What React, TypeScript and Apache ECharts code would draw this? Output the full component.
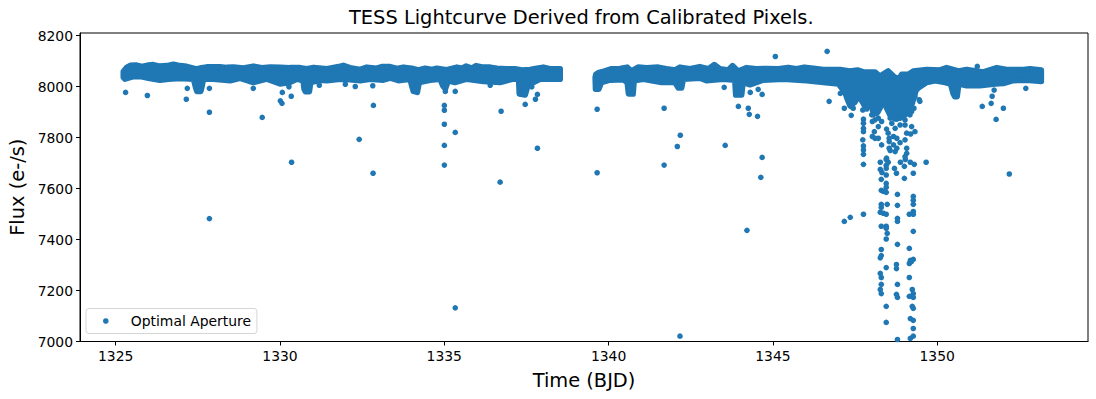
import React, { useEffect, useRef } from "react";
import * as echarts from "echarts";

const xTicks = [1325, 1330, 1335, 1340, 1345, 1350];
const yTicks = [7000, 7200, 7400, 7600, 7800, 8000, 8200];
const seriesName = "Optimal Aperture";

const band1Top = [[1325.23,8059],[1325.33,8075],[1325.44,8083],[1325.64,8084],[1325.79,8079],[1325.94,8083],[1326.14,8086],[1326.34,8080],[1326.55,8082],[1326.75,8087],[1326.95,8082],[1327.15,8079],[1327.45,8069],[1327.6,8074],[1327.76,8077],[1328.16,8077],[1328.36,8075],[1328.57,8076],[1328.87,8073],[1329.17,8080],[1329.43,8074],[1329.68,8076],[1329.98,8075],[1330.28,8074],[1330.59,8074],[1330.79,8070],[1331,8075],[1331.4,8070],[1331.8,8080],[1331.9,8083],[1332.1,8074],[1332.41,8067],[1332.61,8076],[1332.91,8072],[1333.06,8078],[1333.32,8078],[1333.52,8071],[1333.72,8076],[1333.97,8072],[1334.17,8065],[1334.38,8072],[1334.58,8067],[1334.73,8072],[1335.03,8066],[1335.34,8076],[1335.49,8072],[1335.62,8080],[1335.79,8072],[1335.92,8082],[1336.14,8076],[1336.35,8076],[1336.55,8072],[1336.85,8070],[1337.1,8070],[1337.31,8065],[1337.56,8067],[1337.76,8072],[1337.96,8076],[1338.16,8070],[1338.47,8070]];
const band1Bottom = [[1325.23,8036],[1325.28,8029],[1325.54,8039],[1325.74,8039],[1325.99,8033],[1326.34,8025],[1326.6,8029],[1326.95,8032],[1327.36,8029],[1327.42,7997],[1327.46,7981],[1327.58,7981],[1327.62,8003],[1327.66,8029],[1327.96,8029],[1328.47,8023],[1328.77,8032],[1329.17,8016],[1329.58,8029],[1329.98,8010],[1330.28,8016],[1330.49,8029],[1330.68,8023],[1330.71,7990],[1330.75,7980],[1330.87,7980],[1330.91,8016],[1331.2,8025],[1331.4,8023],[1331.8,8029],[1332.1,8027],[1332.41,8023],[1332.71,8029],[1333.11,8025],[1333.32,8033],[1333.57,8023],[1333.92,8029],[1333.97,8003],[1334.02,7981],[1334.14,7977],[1334.2,8016],[1334.53,8025],[1334.83,8029],[1334.91,8003],[1334.99,7990],[1335.08,8023],[1335.28,8016],[1335.64,8029],[1336.14,8020],[1336.65,8016],[1337.05,8029],[1337.21,8029],[1337.23,7971],[1337.41,7967],[1337.49,8003],[1337.66,8016],[1337.86,8029],[1338.47,8029]];
const band2Top = [[1339.55,8048],[1339.62,8054],[1339.82,8061],[1340.03,8070],[1340.28,8071],[1340.5,8076],[1340.63,8061],[1340.83,8076],[1341.09,8074],[1341.44,8076],[1341.69,8070],[1341.95,8065],[1342.1,8076],[1342.4,8070],[1342.7,8078],[1342.96,8070],[1343.14,8086],[1343.31,8070],[1343.56,8065],[1343.69,8082],[1343.86,8061],[1344.12,8074],[1344.42,8070],[1344.72,8071],[1345.08,8070],[1345.38,8075],[1345.63,8070],[1345.87,8076],[1346.14,8072],[1346.44,8067],[1346.95,8067],[1347.25,8061],[1347.48,8065],[1347.66,8057],[1348.01,8057],[1348.16,8041],[1348.41,8061],[1348.57,8041],[1348.72,8028],[1348.82,8048],[1349.02,8048],[1349.17,8061],[1349.58,8067],[1349.98,8065],[1350.18,8074],[1350.54,8061],[1350.79,8067],[1351.29,8057],[1351.7,8074],[1352,8067],[1352.5,8067],[1352.71,8070],[1353.05,8065]];
const band2Bottom = [[1339.53,8036],[1339.54,7990],[1339.64,7990],[1339.72,8016],[1339.98,8025],[1340.38,8027],[1340.5,8016],[1340.54,7971],[1340.68,7971],[1340.71,8023],[1340.99,8029],[1341.54,8016],[1341.95,8016],[1342.05,7994],[1342.15,7994],[1342.2,8029],[1342.7,8033],[1342.9,8023],[1343.41,8029],[1343.76,8025],[1343.79,7967],[1343.97,7967],[1344.01,8016],[1344.22,8007],[1344.62,8025],[1345.23,8029],[1345.94,8023],[1346.44,8016],[1346.9,8010],[1347.1,7977],[1347.15,7957],[1347.25,7925],[1347.4,7938],[1347.51,7964],[1347.76,7912],[1347.84,7964],[1347.95,7900],[1348.1,7900],[1348.2,7930],[1348.3,7931],[1348.47,7886],[1348.62,7873],[1348.82,7879],[1349.02,7899],[1349.15,7938],[1349.25,7984],[1349.35,7997],[1349.58,8016],[1349.83,8023],[1350.13,8016],[1350.3,8010],[1350.38,7971],[1350.43,7960],[1350.5,7960],[1350.55,8010],[1350.79,8003],[1351.19,8003],[1351.65,8010],[1351.9,8012],[1352.2,8023],[1352.6,8025],[1353.05,8020]];

const outliers = [[1325.3,7977],[1325.96,7965],[1327.17,7993],[1327.14,7950],[1327.84,7993],[1327.84,7899],[1327.84,7482],[1329.17,7993],[1329.44,7879],[1330.05,7977],[1329.99,7944],[1330.04,7934],[1330.32,7962],[1330.25,7999],[1330.33,7703],[1331.17,8005],[1331.96,8009],[1332.26,8000],[1332.79,8003],[1332.81,7926],[1332.38,7793],[1332.8,7660],[1334.99,7981],[1335.29,7981],[1334.96,7926],[1334.96,7907],[1334.96,7852],[1335.29,7820],[1334.96,7769],[1334.96,7692],[1335.29,7132],[1336.35,8005],[1336.68,7903],[1336.65,7625],[1337.78,7758],[1337.78,7969],[1337.72,7950],[1337.41,7930],[1337.61,7999],[1339.59,7911],[1339.59,7662],[1341.62,7915],[1341.62,7692],[1342.11,7809],[1342.02,7765],[1342.1,7021],[1343.47,7769],[1344.59,7722],[1343.44,7997],[1344.23,7977],[1344.47,7989],[1344.59,7969],[1343.87,7922],[1344.17,7915],[1344.2,7891],[1344.45,7883],[1344.55,7644],[1344.13,7436],[1344.99,8118],[1346.56,8138],[1346.62,7942],[1346.96,7973],[1347.08,7915],[1351.11,8079],[1352.58,7993],[1351.62,7986],[1351.56,7962],[1351.53,7934],[1351.26,7922],[1351.9,7915],[1351.68,7871],[1352.08,7657],[1349.35,7948],[1349.37,7942],[1349.56,7703]];

const transitDots = [[1347.66,7734],[1347.66,7695],[1348.17,7703],[1348.35,7714],[1348.41,7703],[1348.35,7691],[1348.35,7679],[1348.17,7675],[1348.22,7663],[1348.35,7653],[1348.6,7679],[1348.66,7660],[1348.78,7703],[1348.9,7687],[1348.93,7714],[1349.08,7703],[1349.2,7695],[1349.17,7660],[1348.9,7640],[1348.2,7636],[1348.35,7620],[1348.35,7605],[1348.2,7593],[1348.26,7589],[1348.35,7585],[1348.69,7577],[1349.17,7569],[1349.17,7554],[1349.17,7538],[1348.69,7534],[1348.2,7538],[1348.38,7538],[1348.2,7526],[1348.17,7507],[1348.35,7499],[1348.26,7503],[1347.66,7499],[1347.26,7487],[1347.08,7471],[1349.05,7499],[1349.17,7510],[1349.17,7499],[1348.69,7483],[1348.69,7471],[1348.2,7452],[1348.35,7452],[1348.35,7444],[1349.17,7432],[1348.38,7424],[1348.35,7402],[1348.69,7381],[1349.05,7365],[1348.2,7361],[1348.2,7337],[1348.17,7328],[1349.17,7322],[1349.08,7318],[1349.05,7306],[1349.11,7313],[1348.66,7302],[1348.66,7286],[1348.35,7290],[1348.17,7267],[1348.2,7251],[1349.05,7251],[1348.2,7224],[1348.17,7204],[1348.2,7188],[1348.69,7224],[1349.14,7204],[1349.17,7188],[1349.05,7177],[1349.14,7177],[1349.17,7173],[1348.66,7185],[1348.69,7173],[1348.35,7138],[1348.35,7075],[1349.14,7138],[1349.17,7130],[1349.08,7090],[1349.17,7083],[1349.17,7051],[1349.08,7012],[1349.17,7021],[1348.69,7008],[1347.29,7887],[1347.29,7921],[1347.35,7941],[1347.43,7948],[1347.66,7872],[1347.66,7856],[1347.66,7836],[1347.66,7823],[1347.64,7791],[1347.66,7767],[1347.66,7751],[1347.64,7908],[1347.68,7928],[1347.93,7863],[1348.01,7869],[1347.91,7889],[1347.96,7908],[1348.01,7928],[1347.91,7948],[1348.11,7876],[1348.21,7863],[1348.11,7843],[1347.99,7823],[1347.93,7804],[1348.01,7797],[1348.11,7797],[1348.21,7771],[1348.36,7833],[1348.41,7817],[1348.44,7797],[1348.44,7784],[1348.57,7804],[1348.67,7797],[1348.44,7758],[1348.57,7771],[1348.67,7758],[1348.62,7745],[1348.47,7749],[1348.77,7780],[1348.92,7791],[1348.97,7758],[1348.97,7738],[1348.92,7725],[1348.36,7719],[1348.52,7856],[1348.62,7836],[1348.77,7849],[1348.92,7849],[1349.12,7843],[1349.22,7823],[1349.09,7814],[1348.97,7817],[1348.47,7876],[1349.07,7889],[1348.92,7869],[1349.19,7915],[1349.12,7902],[1347.25,7941],[1347.35,7915],[1347.56,7954],[1347.81,7928],[1347.96,7889],[1348.06,7895],[1348.16,7915],[1348.31,7928],[1348.47,7895],[1348.57,7880],[1348.67,7872],[1348.77,7876],[1348.92,7889],[1349.02,7895],[1349.12,7915],[1349.22,7961]];

// The readings above were taken at 33 px/day; the axis ticks give 32.86 px/day.
const TIME_CAL = 33 / 32.86;
const cal = (p: number[]) => [1325 + (p[0] - 1325) * TIME_CAL, p[1]];

const bandPolygons = [
  [...band1Top, ...[...band1Bottom].reverse()].map(cal),
  [...band2Top, ...[...band2Bottom].reverse()].map(cal),
];
const FONT = "DejaVu Sans";
const BLUE = "#1f77b4";
const DOT = 5.6;

export default function App() {
  const ref = useRef<HTMLDivElement>(null);
  useEffect(() => {
    document.body.style.margin = "0";
    const chart = echarts.init(ref.current!, null, { renderer: "svg" });
    chart.setOption({
      animation: false,
      textStyle: { fontFamily: FONT },
      title: {
        text: "TESS Lightcurve Derived from Calibrated Pixels.",
        left: 344,
        top: 3,
        textStyle: { fontFamily: FONT, fontSize: 19.4, fontWeight: "normal", color: "#000" },
      },
      grid: { left: 80, right: 8, top: 33, bottom: 57.5, show: true, borderColor: "#000", borderWidth: 1, backgroundColor: "#fff", outerBoundsMode: "none" },
      legend: {
        left: 86,
        top: 308.5,
        orient: "horizontal",
        data: [{ name: seriesName, icon: "circle" }],
        itemWidth: 6,
        itemHeight: DOT,
        padding: [5.5, 6, 5.5, 17],
        borderColor: "#d5d5d5",
        borderWidth: 1,
        borderRadius: 3,
        backgroundColor: "rgba(255,255,255,0.8)",
        textStyle: { fontFamily: FONT, fontSize: 13.9, color: "#000", padding: [0, 0, 0, 17] },
      },
      xAxis: {
        type: "value",
        min: 1323.914,
        max: 1354.59,
        splitLine: { show: false },
        axisLine: { show: true, onZero: false, lineStyle: { color: "#000" } },
        axisTick: { show: true, length: 4, lineStyle: { color: "#000" }, customValues: xTicks },
        axisLabel: { color: "#000", fontFamily: FONT, fontSize: 13.9, margin: 7, customValues: xTicks, formatter: (v: number) => String(v) },
        name: "Time (BJD)",
        nameLocation: "middle",
        nameGap: 29,
        nameTextStyle: { fontFamily: FONT, fontSize: 19.4, color: "#000" },
      },
      yAxis: {
        type: "value",
        min: 7000,
        max: 8210,
        splitLine: { show: false },
        axisLine: { show: true, onZero: false, lineStyle: { color: "#000" } },
        axisTick: { show: true, length: 4, lineStyle: { color: "#000" }, customValues: yTicks },
        axisLabel: { color: "#000", fontFamily: FONT, fontSize: 13.9, margin: 7, customValues: yTicks, formatter: (v: number) => String(v) },
        name: "Flux (e-/s)",
        nameLocation: "middle",
        nameGap: 52,
        nameTextStyle: { fontFamily: FONT, fontSize: 19.4, color: "#000" },
      },
      series: [
        {
          name: seriesName,
          type: "scatter",
          symbol: "circle",
          symbolSize: DOT,
          itemStyle: { color: BLUE, opacity: 1 },
          data: [...outliers, ...transitDots].map(cal),
          z: 3,
        },
        {
          type: "custom",
          name: "band",
          coordinateSystem: "cartesian2d",
          encode: { x: 0, y: 1 },
          data: [[1330, 8050], [1345, 8050]],
          renderItem: (params: any, api: any) => ({
            type: "polygon",
            shape: { points: bandPolygons[params.dataIndex].map((p) => api.coord(p)) },
            style: { fill: BLUE, stroke: BLUE, lineWidth: DOT, lineJoin: "round" },
          }),
          z: 2,
        },
      ],
    });
    return () => chart.dispose();
  }, []);
  return <div ref={ref} style={{ width: 1096, height: 399 }} />;
}
